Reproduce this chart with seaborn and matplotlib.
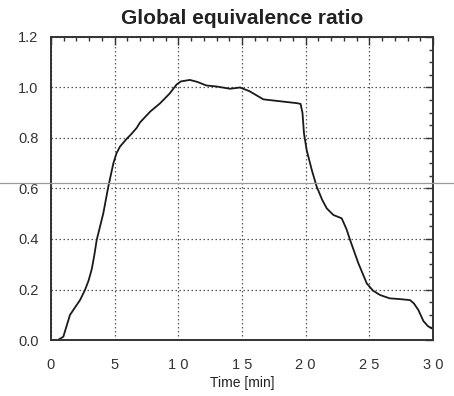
import numpy as np
import pandas as pd
import matplotlib
matplotlib.use("Agg")
import matplotlib.pyplot as plt
from matplotlib.ticker import MultipleLocator
from matplotlib.lines import Line2D
import seaborn as sns

time_min = [0.0, 0.55, 0.97, 1.49, 1.9, 2.28, 2.67, 2.95, 3.2, 3.4, 3.59, 4.11, 4.5, 4.9, 5.15,
            5.42, 5.95, 6.3, 6.73, 7.0, 7.8, 8.56, 9.3, 9.87, 10.2, 10.9, 11.5, 12.2, 13.0,
            14.06, 14.85, 15.6, 16.68, 18.25, 19.3, 19.6, 19.75, 19.87, 20.08, 20.5, 20.87,
            21.3, 21.66, 22.18, 22.83, 23.2, 23.49, 24.14, 24.8, 25.3, 25.85, 26.6, 27.4,
            28.2, 28.5, 28.85, 29.25, 29.6, 29.9]
ratio = [0.0, 0.0, 0.013, 0.099, 0.13, 0.158, 0.198, 0.235, 0.28, 0.335, 0.396, 0.502, 0.607,
         0.70, 0.74, 0.766, 0.797, 0.815, 0.84, 0.862, 0.905, 0.937, 0.975, 1.012, 1.024,
         1.03, 1.022, 1.008, 1.004, 0.995, 1.0, 0.985, 0.953, 0.944, 0.938, 0.935, 0.90,
         0.818, 0.752, 0.67, 0.607, 0.555, 0.521, 0.495, 0.482, 0.44, 0.396, 0.304, 0.224,
         0.195, 0.178, 0.165, 0.162, 0.158, 0.145, 0.119, 0.075, 0.055, 0.046]
xtick_vals = [0, 5, 10, 15, 20, 25, 30]
xtick_labels = ["0", "5", "1 0", "1 5", "2 0", "2 5", "3 0"]
ytick_vals = [0.0, 0.2, 0.4, 0.6, 0.8, 1.0, 1.2]
ytick_labels = ["0.0", "0.2", "0.4", "0.6", "0.8", "1.0", "1.2"]

df = pd.DataFrame({"t": time_min, "phi": ratio})

sns.set_theme(style="white")
plt.rcParams["font.family"] = ["Liberation Sans", "DejaVu Sans"]

fig = plt.figure(figsize=(4.54, 3.96), dpi=100)
ax = fig.add_axes([0.1123, 0.1414, 0.8414, 0.7652])

sns.lineplot(data=df, x="t", y="phi", ax=ax, color="#1a1a1a", linewidth=1.3)

ax.set_xlim(0, 30)
ax.set_ylim(0, 1.2)
ax.set_xticks(xtick_vals)
ax.set_xticklabels(xtick_labels, fontsize=10.5, color="#333333")
ax.set_yticks(ytick_vals)
ax.set_yticklabels(ytick_labels, fontsize=10.5, color="#333333")
ax.xaxis.set_minor_locator(MultipleLocator(1))
ax.yaxis.set_minor_locator(MultipleLocator(0.05))
ax.tick_params(axis="both", which="major", direction="in", length=6, width=1.0,
               top=True, right=True, color="#333333")
ax.tick_params(axis="both", which="minor", direction="in", length=3, width=1.0,
               top=True, right=True, color="#333333")
ax.tick_params(axis="x", which="major", pad=13)
ax.tick_params(axis="y", which="major", pad=9)
ax.grid(True, which="major", linestyle=(0, (1.2, 2.0)), color="#555555", linewidth=0.9)
for s in ax.spines.values():
    s.set_visible(True)
    s.set_color("#333333")
    s.set_linewidth(1.4)

ax.set_xlabel("Time [min]", fontsize=10, labelpad=3, color="#222222")
ax.set_ylabel("")
ax.set_title("Global equivalence ratio", fontsize=15, fontweight="bold", pad=9, color="#222222")

# scan artefact: faint horizontal line across the page
fig.add_artist(Line2D([0, 1], [1 - 183 / 396, 1 - 183 / 396], transform=fig.transFigure,
                      color="#999999", linewidth=0.9))

fig.savefig("out.png", dpi=100)
